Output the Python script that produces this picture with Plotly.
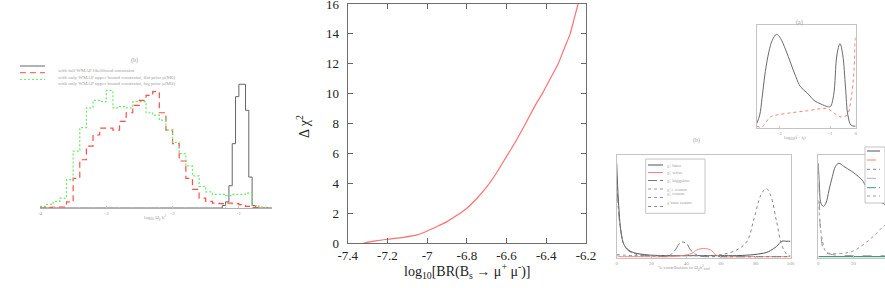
import plotly.graph_objects as go

W, H = 885, 288

# ---------------- main panel data ----------------
br_log = [-7.32, -7.26, -7.2, -7.12, -7.05, -7.0, -6.95, -6.9, -6.85, -6.8, -6.75,
          -6.7, -6.65, -6.6, -6.55, -6.5, -6.45, -6.42, -6.38, -6.34, -6.31, -6.28,
          -6.26, -6.24]
dchi2 = [0.0, 0.14, 0.25, 0.38, 0.54, 0.8, 1.1, 1.43, 1.85, 2.33, 2.98,
         3.75, 4.7, 5.8, 6.9, 8.1, 9.35, 10.0, 11.0, 12.0, 13.0, 14.0,
         15.0, 16.0]
x_ticks = [-7.4, -7.2, -7.0, -6.8, -6.6, -6.4, -6.2]
x_ticklabels = ["-7.4", "-7.2", "-7", "-6.8", "-6.6", "-6.4", "-6.2"]
y_ticks = [0, 2, 4, 6, 8, 10, 12, 14, 16]
y_ticklabels = ["0", "2", "4", "6", "8", "10", "12", "14", "16"]
x_title = "log<sub>10</sub>[BR(B<sub>s</sub> \u2192 \u03bc<sup>+</sup> \u03bc<sup>-</sup>)]"
y_title = "\u0394 \u03c7<sup>2</sup>"

# ---------------- left (faded) histogram panel ----------------
hist_edges = [-4.0, -3.9, -3.8, -3.7, -3.6, -3.5, -3.4, -3.3, -3.2, -3.1, -3.0,
              -2.9, -2.8, -2.7, -2.6, -2.5, -2.4, -2.3, -2.2, -2.1, -2.0,
              -1.9, -1.8, -1.7, -1.6, -1.5, -1.4, -1.3, -1.2, -1.1, -1.0,
              -0.9, -0.8, -0.7, -0.6, -0.5]
green_hist = [0.013, 0.03, 0.054, 0.08, 0.23, 0.46, 0.65, 0.81, 0.87, 0.86, 0.95,
              0.81, 0.82, 0.81, 0.86, 0.86, 0.77, 0.75, 0.71, 0.63, 0.53,
              0.44, 0.34, 0.26, 0.175, 0.13, 0.11, 0.11, 0.10, 0.11, 0.11,
              0.12, 0.02, 0.008, 0.0, 0.0]
red_hist = [0.0, 0.005, 0.008, 0.008, 0.05, 0.24, 0.39, 0.5, 0.59, 0.645, 0.645,
            0.63, 0.70, 0.77, 0.83, 0.87, 0.91, 0.94, 0.77, 0.63, 0.52,
            0.38, 0.24, 0.15, 0.08, 0.054, 0.04, 0.035, 0.04, 0.035, 0.027,
            0.013, 0.005, 0.0, 0.0, 0.0]
black_edges = [-4.0, -1.3, -1.25, -1.2, -1.15, -1.1, -1.05, -1.0, -0.95, -0.9,
               -0.85, -0.8, -0.75, -0.5]
black_hist = [0.0, 0.0, 0.02, 0.05, 0.18, 0.52, 0.9, 1.0, 1.0, 0.79,
              0.25, 0.02, 0.0, 0.0]
hist_ticks = [-4, -3, -2, -1]
hist_ticklabels = ["-4", "-3", "-2", "-1"]
hist_legend = ["with full WMAP likelihood constraint",
               "with only WMAP upper bound constraint, flat prior \u03bc(M0)",
               "with only WMAP upper bound constraint, log prior \u03bc(M0)"]

# ---------------- top-right (a) panel ----------------
a_x_black = [-3.89, -3.78, -3.69, -3.56, -3.42, -3.29, -3.12, -2.96, -2.76, -2.56,
             -2.36, -2.17, -1.9, -1.64, -1.37, -1.11, -1.0, -0.87, -0.74, -0.62,
             -0.51, -0.4, -0.31, -0.18, 0.0]
a_y_black = [0.05, 0.13, 0.29, 0.55, 0.74, 0.85, 0.91, 0.87, 0.76, 0.63,
             0.5, 0.4, 0.34, 0.27, 0.235, 0.21, 0.21, 0.32, 0.71, 0.82,
             0.71, 0.39, 0.13, 0.03, 0.02]
a_x_red = [-3.89, -3.7, -3.56, -3.36, -3.09, -2.56, -1.9, -1.37, -1.11, -0.84,
           -0.58, -0.34, -0.18, -0.07, -0.02, 0.0]
a_y_red = [0.02, 0.01, 0.05, 0.11, 0.13, 0.15, 0.17, 0.19, 0.19, 0.145,
           0.11, 0.13, 0.29, 0.55, 0.85, 0.9]
a_ticks = [-3, -1, 0]
a_ticklabels = ["-3", "-1", "0"]

# ---------------- bottom-left (b) panel ----------------
b_x = [0, 1, 2.5, 4.4, 8.2, 16, 31, 43, 46, 50, 54, 57, 60, 69, 75, 79, 83, 86,
       88.5, 92, 95, 98, 100]
b_bino = [0.92, 0.55, 0.25, 0.12, 0.06, 0.03, 0.02, 0.02, 0.02, 0.02, 0.02, 0.02,
          0.02, 0.02, 0.025, 0.03, 0.04, 0.05, 0.07, 0.11, 0.16, 0.16, 0.16]
b_wino = [0.02, 0.015, 0.01, 0.01, 0.01, 0.01, 0.01, 0.04, 0.075, 0.09, 0.075, 0.03,
          0.01, 0.01, 0.01, 0.01, 0.01, 0.01, 0.01, 0.01, 0.01, 0.01, 0.01]
b_hx = [0, 2, 5, 10, 20, 30, 33, 37, 40, 43, 47, 60, 100]
b_higgsino = [0.8, 0.3, 0.1, 0.04, 0.02, 0.02, 0.06, 0.15, 0.14, 0.065, 0.02, 0.01, 0.01]
b_sx = [0, 10, 30, 50, 60, 69, 75, 79, 83, 86, 88.5, 92, 95, 98, 100]
b_stau = [0.03, 0.02, 0.02, 0.02, 0.03, 0.075, 0.16, 0.38, 0.61, 0.675, 0.61, 0.35,
          0.12, 0.03, 0.02]
b_ticks = [0, 20, 40, 60, 80, 100]
b_ticklabels = ["0", "20", "40", "60", "80", "100"]
b_legend = ["\u03c7\u0303\u2081 bino", "\u03c7\u0303\u2081 wino",
            "\u03c7\u0303\u2081 higgsino", "\u03c7\u0303\u2081\u00b1 coann",
            "\u03c7\u0303\u2082 coann", "\u03c7\u0303 stau coann"]

# ---------------- bottom-right panel ----------------
c_x = [0, 0.6, 1.5, 2.8, 4.3, 6.1, 8, 9.8, 11.7, 14.4, 19, 22.8, 25.6, 28.3, 32, 36.7, 40]
c_black = [0.92, 0.71, 0.53, 0.5, 0.53, 0.66, 0.79, 0.89, 0.92, 0.89, 0.84, 0.79,
           0.74, 0.64, 0.56, 0.53, 0.5]
c_x2 = [0, 0.9, 2.4, 4.3, 8, 17, 21, 26.5, 32, 36.7, 40]
c_dotted = [0.56, 0.35, 0.16, 0.06, 0.04, 0.05, 0.075, 0.14, 0.22, 0.30, 0.34]
c_x3 = [0, 0.6, 1.5, 3.5, 8, 20, 40]
c_dashed = [0.9, 0.55, 0.22, 0.06, 0.03, 0.02, 0.02]
c_flat = [0.01, 0.01, 0.01, 0.01, 0.01, 0.01, 0.01]
c_ticks = [0, 20]
c_ticklabels = ["0", "20"]


def dom_x(a, b):
    return [a / W, b / W]


def dom_y(top, bottom):
    return [1 - bottom / H, 1 - top / H]


def px(xp, yp):
    return xp / W, 1 - yp / H


FAINT = "#9a9a9a"
FRAME = "#c4c4c4"
SERIF = "Liberation Serif"

fig = go.Figure()

# main curve
fig.add_trace(go.Scatter(x=br_log, y=dchi2, mode="lines",
                         line=dict(color="#ff7070", width=1.2, shape="spline", smoothing=0.6),
                         xaxis="x", yaxis="y", showlegend=False))

# left histogram
fig.add_trace(go.Scatter(x=black_edges, y=black_hist, mode="lines",
                         line=dict(color="#666666", width=1, shape="hv"),
                         xaxis="x2", yaxis="y2", showlegend=False))
fig.add_trace(go.Scatter(x=hist_edges, y=red_hist, mode="lines",
                         line=dict(color="#ff4d4d", width=1.2, shape="hv", dash="6px,4px"),
                         xaxis="x2", yaxis="y2", showlegend=False))
fig.add_trace(go.Scatter(x=hist_edges, y=green_hist, mode="lines",
                         line=dict(color="#6be86b", width=1.2, shape="hv", dash="2px,2px"),
                         xaxis="x2", yaxis="y2", showlegend=False))

# panel (a)
fig.add_trace(go.Scatter(x=a_x_black, y=a_y_black, mode="lines",
                         line=dict(color="#6a6a6a", width=1, shape="spline"),
                         xaxis="x3", yaxis="y3", showlegend=False))
fig.add_trace(go.Scatter(x=a_x_red, y=a_y_red, mode="lines",
                         line=dict(color="#ff7a7a", width=1, shape="spline", dash="dot"),
                         xaxis="x3", yaxis="y3", showlegend=False))

# panel (b)
fig.add_trace(go.Scatter(x=b_x, y=b_bino, mode="lines",
                         line=dict(color="#555555", width=1, shape="spline"),
                         xaxis="x4", yaxis="y4", showlegend=False))
fig.add_trace(go.Scatter(x=b_x, y=b_wino, mode="lines",
                         line=dict(color="#ff8080", width=1, shape="spline"),
                         xaxis="x4", yaxis="y4", showlegend=False))
fig.add_trace(go.Scatter(x=b_hx, y=b_higgsino, mode="lines",
                         line=dict(color="#777777", width=1, shape="spline", dash="dashdot"),
                         xaxis="x4", yaxis="y4", showlegend=False))
fig.add_trace(go.Scatter(x=b_sx, y=b_stau, mode="lines",
                         line=dict(color="#8a8a8a", width=1, shape="spline", dash="dot"),
                         xaxis="x4", yaxis="y4", showlegend=False))

# bottom-right panel
fig.add_trace(go.Scatter(x=c_x, y=c_black, mode="lines",
                         line=dict(color="#666666", width=1, shape="spline"),
                         xaxis="x5", yaxis="y5", showlegend=False))
fig.add_trace(go.Scatter(x=c_x3, y=c_dashed, mode="lines",
                         line=dict(color="#9a9a9a", width=1, shape="spline", dash="dash"),
                         xaxis="x5", yaxis="y5", showlegend=False))
fig.add_trace(go.Scatter(x=c_x2, y=c_dotted, mode="lines",
                         line=dict(color="#9a9a9a", width=1, shape="spline", dash="dot"),
                         xaxis="x5", yaxis="y5", showlegend=False))
fig.add_trace(go.Scatter(x=c_x3, y=c_flat, mode="lines",
                         line=dict(color="#3f9a7a", width=1.2),
                         xaxis="x5", yaxis="y5", showlegend=False))

tickfont_main = dict(family=SERIF, size=13, color="#222222")
tinyfont = dict(family=SERIF, size=5, color=FAINT)

layout = dict(
    width=W, height=H, template="none",
    margin=dict(l=0, r=0, t=0, b=0),
    paper_bgcolor="white", plot_bgcolor="rgba(0,0,0,0)",
    showlegend=False,
    xaxis=dict(domain=dom_x(347.7, 586), range=[-7.4, -6.2], anchor="y",
               tickvals=x_ticks, ticktext=x_ticklabels, ticks="inside", ticklen=5,
               tickcolor="#666666", showline=True, linecolor="#6f6f6f", linewidth=1,
               mirror="ticks", showgrid=False, zeroline=False, automargin=False,
               tickfont=tickfont_main, ticklabeloverflow="allow", tickangle=0),
    yaxis=dict(domain=dom_y(4, 243), range=[0, 16], anchor="x",
               tickvals=y_ticks, ticktext=y_ticklabels, ticks="inside", ticklen=5,
               tickcolor="#666666", showline=True, linecolor="#6f6f6f", linewidth=1,
               mirror="ticks", showgrid=False, zeroline=False, automargin=False,
               tickfont=tickfont_main, ticklabelstandoff=5, ticklabeloverflow="allow"),
    # left histogram
    xaxis2=dict(domain=dom_x(40, 272), range=[-4, -0.5], anchor="y2",
                tickvals=hist_ticks, ticktext=hist_ticklabels, ticks="inside", ticklen=2,
                tickcolor=FRAME, showline=True, linecolor="#b0b0b0", linewidth=1,
                showgrid=False, zeroline=False, automargin=False, tickfont=tinyfont,
                minor=dict(dtick=0.2, ticks="inside", ticklen=1, tickcolor=FRAME)),
    yaxis2=dict(domain=dom_y(75, 208), range=[0, 1.075], anchor="x2", visible=False,
                automargin=False),
    # panel (a)
    xaxis3=dict(domain=dom_x(756.7, 855.7), range=[-3.9, 0], anchor="y3",
                tickvals=a_ticks, ticktext=a_ticklabels, ticks="inside", ticklen=2,
                tickcolor=FRAME, showline=True, linecolor=FRAME, linewidth=1, mirror=True,
                showgrid=False, zeroline=False, automargin=False, tickfont=tinyfont),
    yaxis3=dict(domain=dom_y(25, 128.3), range=[0, 1.0], anchor="x3", showticklabels=False,
                ticks="", showline=True, linecolor=FRAME, linewidth=1, mirror=True,
                showgrid=False, zeroline=False, automargin=False),
    # panel (b)
    xaxis4=dict(domain=dom_x(616.7, 790.5), range=[0, 100], anchor="y4",
                tickvals=b_ticks, ticktext=b_ticklabels, ticks="inside", ticklen=2,
                tickcolor=FRAME, showline=True, linecolor=FRAME, linewidth=1, mirror=True,
                showgrid=False, zeroline=False, automargin=False, tickfont=tinyfont),
    yaxis4=dict(domain=dom_y(155, 257.7), range=[0, 1.0], anchor="x4", showticklabels=False,
                ticks="", showline=True, linecolor=FRAME, linewidth=1, mirror=True,
                showgrid=False, zeroline=False, automargin=False),
    # bottom-right panel
    xaxis5=dict(domain=dom_x(818.3, 885), range=[0, 37.9], anchor="y5",
                tickvals=c_ticks, ticktext=c_ticklabels, ticks="inside", ticklen=2,
                tickcolor=FRAME, showline=True, linecolor=FRAME, linewidth=1, mirror=True,
                showgrid=False, zeroline=False, automargin=False, tickfont=tinyfont),
    yaxis5=dict(domain=dom_y(155, 257.7), range=[0, 1.0], anchor="x5", showticklabels=False,
                ticks="", showline=True, linecolor=FRAME, linewidth=1, mirror=False,
                showgrid=False, zeroline=False, automargin=False),
)
fig.update_layout(**layout)

ann = []
shapes = []

# main axis titles
tx, ty = px(467, 283)
ann.append(dict(text=x_title, x=tx, y=ty, xref="paper", yref="paper", showarrow=False,
                font=dict(family=SERIF, size=14, color="#222222")))
tx, ty = px(303, 127)
ann.append(dict(text=y_title, x=tx, y=ty, xref="paper", yref="paper", showarrow=False,
                textangle=-90, font=dict(family=SERIF, size=14, color="#222222")))

# panel titles and axis labels of the faded panels
for txt, xp, yp in [("(b)", 129, 55), ("(a)", 805, 17), ("(b)", 702, 141)]:
    ax_, ay_ = px(xp, yp)
    ann.append(dict(text=txt, x=ax_, y=ay_, xref="paper", yref="paper", showarrow=False,
                    font=dict(family=SERIF, size=6, color=FAINT)))
for txt, xp, yp in [("log<sub>10</sub> \u03a9<sub>\u03c7</sub> h<sup>2</sup>", 142, 223),
                    ("log<sub>10</sub>(f\u0303 - f<sub>t</sub>)", 808, 138),
                    ("% contribution to \u03a9<sub>\u03c7</sub>h<sup>2</sup><sub>total</sub>", 712, 273)]:
    ax_, ay_ = px(xp, yp)
    ann.append(dict(text=txt, x=ax_, y=ay_, xref="paper", yref="paper", showarrow=False,
                    font=dict(family=SERIF, size=5, color=FAINT)))

# legend of left histogram panel
leg_styles = [("#666666", "solid"), ("#ff4d4d", "6px,4px"), ("#6be86b", "2px,2px")]
for i, (txt, (col, dsh)) in enumerate(zip(hist_legend, leg_styles)):
    yp = 66 + i * 6.7
    x0, y0 = px(20, yp)
    x1, _ = px(45, yp)
    shapes.append(dict(type="line", xref="paper", yref="paper", x0=x0, x1=x1, y0=y0, y1=y0,
                       line=dict(color=col, width=1, dash=dsh)))
    tx, ty = px(56, yp)
    ann.append(dict(text=txt, x=tx, y=ty, xref="paper", yref="paper", showarrow=False,
                    xanchor="left", font=dict(family=SERIF, size=5, color="#a0a0a0")))

# legend of panel (b)
bx0, by0 = px(645.7, 159)
bx1, by1 = px(705, 213.3)
shapes.append(dict(type="rect", xref="paper", yref="paper", x0=bx0, x1=bx1, y0=by1, y1=by0,
                   line=dict(color=FRAME, width=1), fillcolor="white", layer="above"))
b_styles = [("#555555", "solid"), ("#ff8080", "solid"), ("#777777", "dashdot"),
            ("#9a9a9a", "dot"), ("#b080d0", "dot"), ("#8a8a8a", "dot")]
b_rows = [165, 172.5, 180.5, 189, 197.5, 206.5]
for txt, (col, dsh), yp in zip(b_legend, b_styles, b_rows):
    x0, y0 = px(648, yp)
    x1, _ = px(663, yp)
    shapes.append(dict(type="line", xref="paper", yref="paper", x0=x0, x1=x1, y0=y0, y1=y0,
                       line=dict(color=col, width=1, dash=dsh), layer="above"))
    tx, ty = px(665, yp)
    ann.append(dict(text=txt, x=tx, y=ty, xref="paper", yref="paper", showarrow=False,
                    xanchor="left", font=dict(family=SERIF, size=5, color="#a0a0a0")))

# legend box of bottom-right panel (cut off at the image edge)
cx0, cy0 = px(865, 147)
cx1, cy1 = px(885, 203)
shapes.append(dict(type="rect", xref="paper", yref="paper", x0=cx0, x1=cx1, y0=cy1, y1=cy0,
                   line=dict(color=FRAME, width=1), fillcolor="white", layer="above"))
c_styles = [("#555555", "solid"), ("#ff8080", "dash"), ("#8a8a8a", "dot"),
            ("#b0b0d0", "dash"), ("#3f9a7a", "dashdot"), ("#9a9a9a", "dot")]
c_rows = [151, 160, 169.3, 178.3, 187.7, 196]
for (col, dsh), yp in zip(c_styles, c_rows):
    x0, y0 = px(867, yp)
    x1, _ = px(880, yp)
    shapes.append(dict(type="line", xref="paper", yref="paper", x0=x0, x1=x1, y0=y0, y1=y0,
                       line=dict(color=col, width=1, dash=dsh), layer="above"))

fig.update_layout(annotations=ann, shapes=shapes)
fig.write_html("out.html")
